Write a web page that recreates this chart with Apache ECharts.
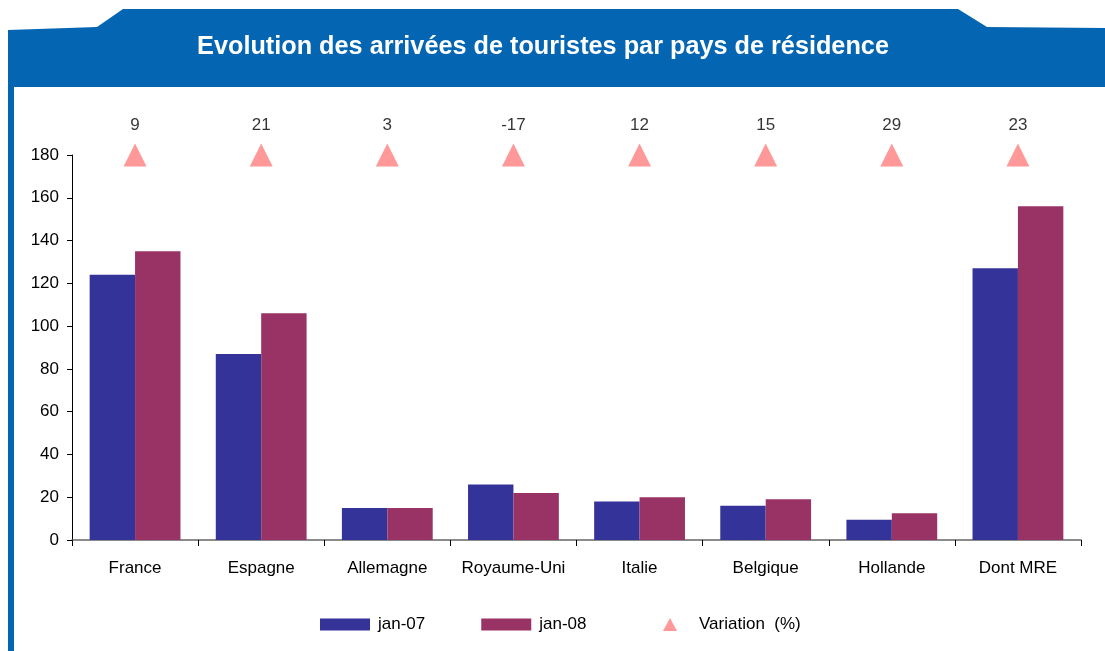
<!DOCTYPE html>
<html>
<head>
<meta charset="utf-8">
<script src="https://cdn.jsdelivr.net/npm/echarts@6/dist/echarts.min.js"></script>
<style>
html,body{margin:0;padding:0;background:#fff;}
#c{width:1105px;height:651px;}
</style>
</head>
<body>
<div id="c"></div>
<script>
var categories = ['France','Espagne','Allemagne','Royaume-Uni','Italie','Belgique','Hollande','Dont MRE'];
var jan07 = [124, 87, 15, 26, 18, 16, 9.5, 127];
var jan08 = [135, 106, 15, 22, 20, 19, 12.5, 156];
var variation = [9, 21, 3, -17, 12, 15, 29, 23];
var yTicks = [0, 20, 40, 60, 80, 100, 120, 140, 160, 180];
var title = 'Evolution des arrivées de touristes par pays de résidence';

var FONT = '"Liberation Sans", Arial, sans-serif';
var BLUE = '#0465B2';
var markerLevel = yTicks[yTicks.length - 1];

var chart = echarts.init(document.getElementById('c'), null, {renderer: 'canvas'});
chart.setOption({
  animation: false,
  backgroundColor: '#ffffff',
  textStyle: {fontFamily: FONT},
  graphic: [
    {type: 'polygon', z: -1, shape: {points: [[8,30],[97,27],[123,9],[958,9],[987,27],[1105,28],[1105,87],[8,87]]}, style: {fill: BLUE}},
    {type: 'rect', z: -1, shape: {x: 8, y: 87, width: 6, height: 564}, style: {fill: BLUE}},
    {type: 'text', x: 543, y: 47, scaleX: 1.01, style: {text: title, fill: '#ffffff', font: 'bold 25px ' + FONT, align: 'center', verticalAlign: 'middle'}}
  ],
  grid: {left: 72, right: 24, top: 155, bottom: 111, containLabel: false},
  legend: [
    {
      data: ['jan-07', 'jan-08'], left: 315, top: 611, itemWidth: 50, itemHeight: 12, itemGap: 56,
      icon: 'rect', textStyle: {fontSize: 17, color: '#000', fontFamily: FONT, padding: [0,0,0,3]}
    },
    {
      data: ['Variation  (%)'], left: 658, top: 611, itemWidth: 14, itemHeight: 13,
      icon: 'triangle', textStyle: {fontSize: 17, color: '#000', fontFamily: FONT, padding: [0,0,0,17]}
    }
  ],
  xAxis: {
    type: 'category', data: categories, boundaryGap: true,
    axisLine: {show: true, lineStyle: {color: '#666', width: 1.5}},
    axisTick: {show: true, interval: 0, length: 6, lineStyle: {color: '#000'}},
    axisLabel: {fontSize: 17, color: '#000', margin: 20, interval: 0, fontFamily: FONT}
  },
  yAxis: {
    type: 'value', min: yTicks[0], max: markerLevel, interval: 20,
    axisLine: {show: true, lineStyle: {color: '#000'}},
    axisTick: {show: true, length: 5, lineStyle: {color: '#000'}},
    axisLabel: {fontSize: 17, color: '#000', margin: 13, fontFamily: FONT},
    splitLine: {show: false}
  },
  series: [
    {name: 'jan-07', type: 'bar', data: jan07, barGap: '0%', barCategoryGap: '28%', itemStyle: {color: '#333399'}},
    {name: 'jan-08', type: 'bar', data: jan08, barGap: '0%', barCategoryGap: '28%', itemStyle: {color: '#993366'}},
    {
      name: 'Variation  (%)', type: 'scatter', clip: false,
      data: variation.map(function (v) { return {value: markerLevel, v: v}; }),
      symbol: 'triangle', symbolSize: [23, 23],
      itemStyle: {color: '#FF8080'},
      label: {
        show: true, position: 'top', distance: 10, fontSize: 17, color: '#000', fontFamily: FONT,
        formatter: function (p) { return String(variation[p.dataIndex]); }
      }
    }
  ]
});
</script>
</body>
</html>
